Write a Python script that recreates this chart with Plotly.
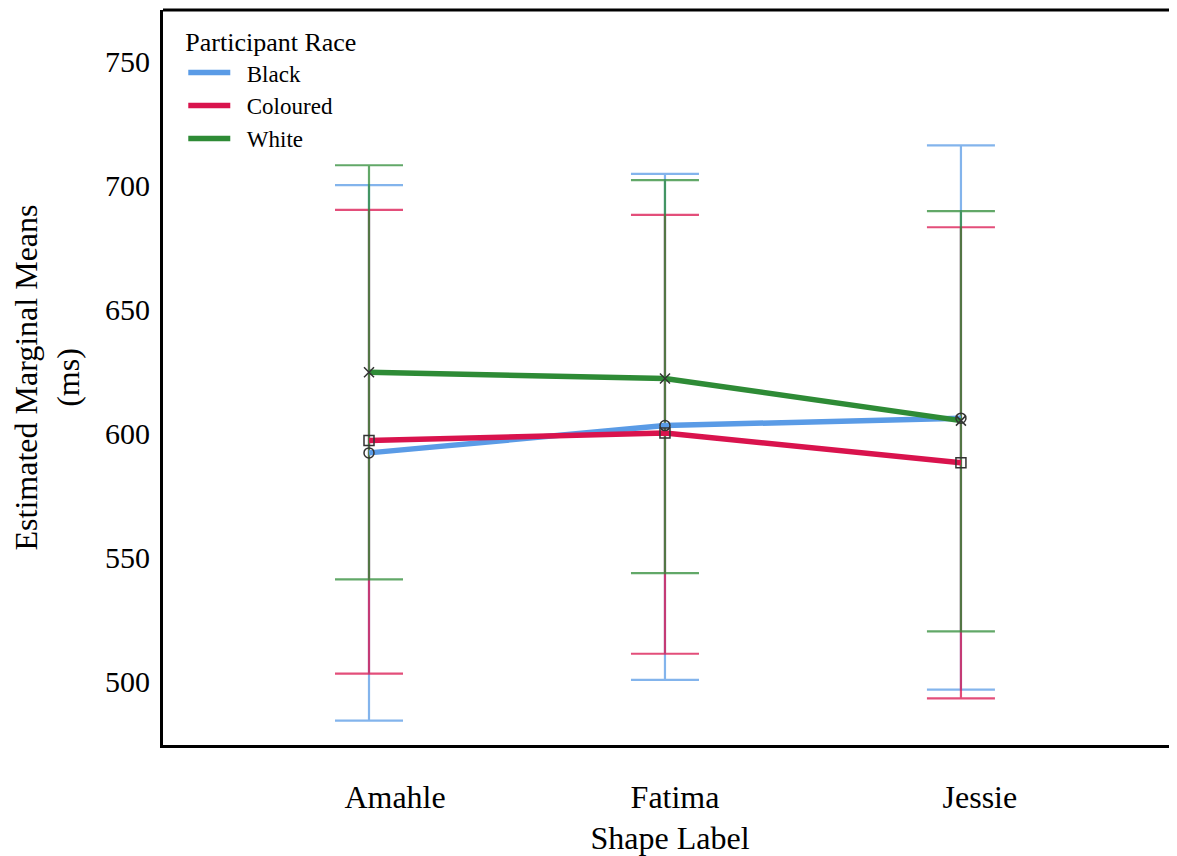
import plotly.graph_objects as go

categories = ["Amahle", "Fatima", "Jessie"]
groups = ["Black", "Coloured", "White"]
means = {
    "Black": [592, 603, 606],
    "Coloured": [597, 600, 588],
    "White": [624.5, 622, 605],
}
upper = {
    "Black": [700, 704.5, 716],
    "Coloured": [690, 688, 683],
    "White": [708, 702, 689.5],
}
lower = {
    "Black": [484, 500.5, 496.5],
    "Coloured": [503, 511, 493],
    "White": [541, 543.5, 520],
}
colors = {"Black": "#5A9BE6", "Coloured": "#D9134D", "White": "#2E8B36"}
err_colors = {"Black": "rgba(90,155,230,0.75)", "Coloured": "rgba(217,19,77,0.75)", "White": "rgba(46,139,54,0.75)"}
symbols = {"Black": "circle-open", "Coloured": "square-open", "White": "x-thin-open"}

fig = go.Figure()
xidx = list(range(len(categories)))
label_shift = [0.088, 0.034, 0.064]  # layout: tick-label offset from category centre

for g in groups:
    fig.add_trace(go.Scatter(
        x=xidx, y=means[g], mode="markers", showlegend=False,
        marker=dict(size=0.1, color="rgba(0,0,0,0)"),
        error_y=dict(type="data", symmetric=False,
                     array=[u - m for u, m in zip(upper[g], means[g])],
                     arrayminus=[m - l for m, l in zip(means[g], lower[g])],
                     color=err_colors[g], thickness=2.2, width=34),
        hoverinfo="skip"))

for g in groups:
    fig.add_trace(go.Scatter(
        x=xidx, y=means[g], mode="lines", name="\u00a0\u00a0" + g,
        line=dict(color=colors[g], width=5.5)))

for g in groups:
    fig.add_trace(go.Scatter(
        x=xidx, y=means[g], mode="markers", showlegend=False,
        marker=dict(symbol=symbols[g], size=10, color="#333333",
                    line=dict(color="#333333", width=1.5))))

serif = "Liberation Serif, Times New Roman, serif"

fig.update_layout(
    width=1169, height=848,
    margin=dict(l=155, r=0, t=2, b=111),
    paper_bgcolor="white", plot_bgcolor="white",
    font=dict(family=serif, color="black"),
    showlegend=True,
    legend=dict(
        title=dict(text="Participant Race", font=dict(size=26, family=serif)),
        font=dict(size=23, family=serif),
        x=0.02, y=0.99, xanchor="left", yanchor="top",
        bgcolor="rgba(255,255,255,0)", itemwidth=42, tracegroupgap=0,
    ),
    xaxis=dict(
        range=[-0.696, 2.73], tickmode="array",
        tickvals=[i + s for i, s in zip(xidx, label_shift)], ticktext=categories,
        showgrid=False, zeroline=False, showline=True, linecolor="black", linewidth=3,
        ticks="", tickfont=dict(size=32, family=serif), ticklabelstandoff=22,
        title=dict(text="Shape Label", font=dict(size=32, family=serif), standoff=13),
    ),
    yaxis=dict(
        range=[474.2, 770.6], tickvals=[500, 550, 600, 650, 700, 750],
        showgrid=False, zeroline=False, showline=True, linecolor="black", linewidth=3,
        ticks="", tickfont=dict(size=30, family=serif), ticklabelstandoff=4,
        title=dict(text="Estimated Marginal Means<br>(ms)", font=dict(size=32, family=serif), standoff=20),
    ),
    shapes=[dict(type="line", xref="paper", yref="paper", x0=0, x1=1, y0=1, y1=1,
                 line=dict(color="black", width=3))],
)

fig.write_html("out.html")
